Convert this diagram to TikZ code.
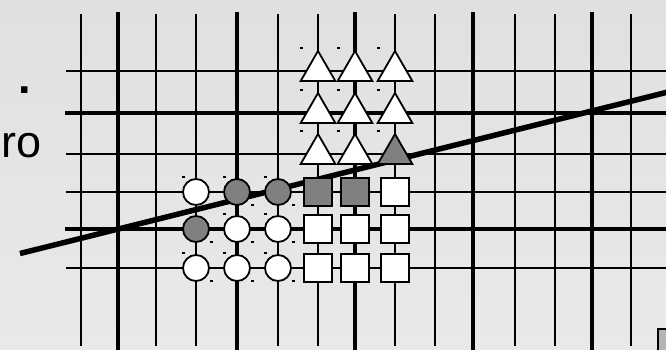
\documentclass[tikz,border=0pt]{standalone}
\usepackage{fontspec}
\setmainfont{Liberation Sans}
\usepackage{xcolor}
\definecolor{bgtop}{RGB}{224,224,224}
\definecolor{bgbot}{RGB}{233,233,233}
\definecolor{mkgrey}{RGB}{128,128,128}
\definecolor{tabgrey}{RGB}{180,180,180}
\usetikzlibrary{shapes.geometric}
\tikzset{
  gline/.style={line width=1.8pt,draw=black},
  gbold/.style={line width=4pt,draw=black},
  cut/.style={line width=5.5pt,draw=black},
  mcirc/.style={circle,draw=black,line width=1.8pt,fill=white,minimum size=26pt,inner sep=0pt},
  msq/.style={rectangle,draw=black,line width=1.8pt,fill=white,minimum size=28pt,inner sep=0pt},
  mtri/.style={regular polygon,regular polygon sides=3,draw=black,line width=1.8pt,fill=white,minimum size=40pt,inner sep=0pt},
  lab/.style={font=\fontsize{45}{50}\selectfont,inner sep=0pt,text=black},
}

\begin{document}
\begin{tikzpicture}[x=1pt,y=-1pt]
    \useasboundingbox (0,0) rectangle (666,349);
    \clip (0,0) rectangle (666,349);
    \shade[top color=bgtop,bottom color=bgbot] (0,0) rectangle (666,349);
    % grid
    \foreach \x in {81,156,196,278,318,395,435,515,555,631}{\draw[gline] (\x,14) -- (\x,346);}
    \foreach \x in {118,237,355,473,592}{\draw[gbold] (\x,12) -- (\x,352);}
    \foreach \y in {71,154,192,268}{\draw[gline] (66,\y) -- (670,\y);}
    \foreach \y in {113,229}{\draw[gbold] (65,\y) -- (670,\y);}
    % cutting line
    \coordinate (cutL) at (20,253.5);
    \coordinate (cutR) at (672,91);
    \draw[cut] (cutL) -- (cutR);
    % circles
    \foreach \c/\r/\f [count=\i] in {196/192/white,237/192/mkgrey,278/192/mkgrey,196/229/mkgrey,237/229/white,278/229/white,196/268/white,237/268/white,278/268/white}{
      \node[mcirc,fill=\f] (circ\i) at (\c,\r) {};
      \fill (\c-14.5,\r-16) rectangle ++(3,2);
      \fill (\c+13.5,\r+12) rectangle ++(3,2);
    }
    % squares
    \foreach \c/\r/\f [count=\i] in {318/192/mkgrey,355/192/mkgrey,395/192/white,318/229/white,355/229/white,395/229/white,318/268/white,355/268/white,395/268/white}{
      \node[msq,fill=\f] (sq\i) at (\c,\r) {};
    }
    % triangles
    \foreach \c/\r/\f [count=\i] in {318/71/white,355/71/white,395/71/white,318/113/white,355/113/white,395/113/white,318/154/white,355/154/white,395/154/mkgrey}{
      \node[mtri,fill=\f] (tri\i) at (\c,\r) {};
      \fill (\c-18.5,\r-24) rectangle ++(3,2);
    }
    % cut-off bits
    \draw[line width=2.2pt,fill=tabgrey] (658,329) rectangle (700,380);
    \node[lab,anchor=base west] (stop) at (18,93) {\bfseries .};
    \node[lab,anchor=base east] (ro) at (42,157) {ro};
  \end{tikzpicture}
\end{document}
